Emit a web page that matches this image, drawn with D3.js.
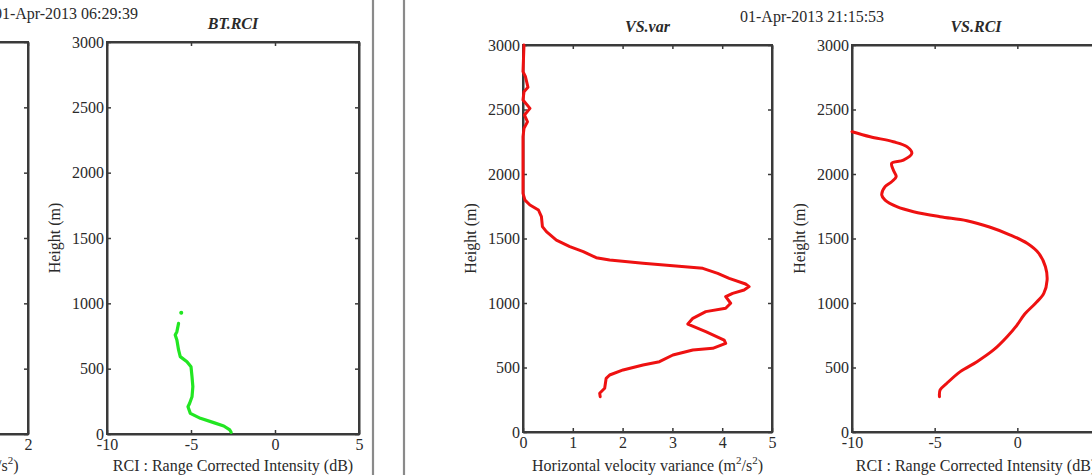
<!DOCTYPE html>
<html>
<head>
<meta charset="utf-8">
<script src="https://cdn.jsdelivr.net/npm/d3@7"></script>
<style>
  html, body { margin: 0; padding: 0; background: #fff; }
  svg { display: block; }
  text { font-family: "Liberation Serif", "Times New Roman", serif; fill: #2a2a2a; }
</style>
</head>
<body>
<svg id="chart" width="1092" height="475"></svg>
<script>
// ---------- data ----------
const heightTicks = [0, 500, 1000, 1500, 2000, 2500, 3000];
const rciTicks = [-10, -5, 0, 5];
const varTicks = [0, 1, 2, 3, 4, 5];
const leftVarTicks = [0, 0.5, 1, 1.5, 2];

const timestamps = ["01-Apr-2013 06:29:39", "01-Apr-2013 21:15:53"];
const titles = ["BT.RCI", "VS.var", "VS.RCI"];

// BT.RCI profile (dB vs height m); NaN marks the gap below the isolated top sample
const btRciValue  = [-5.58, NaN, -5.74, -5.84, -5.94, -5.84, -5.74, -5.64, -5.24, -5.0, -4.94, -4.89, -4.94, -5.08, -5.18, -5.04, -4.44, -3.65, -3.05, -2.69, -2.61];
const btRciHeight = [928, 890, 847, 783, 758, 719, 643, 592, 553, 515, 439, 362, 285, 235, 209, 158, 120, 87, 61, 31, 13];

// VS.var profile (m^2/s^2 vs height m)
const vsVarValue  = [0.02, 0.0, 0.05, 0.10, 0.02, 0.0, 0.14, 0.03, 0.09, 0.02, 0.0, 0.0, 0.0, 0.04, 0.14, 0.31, 0.37, 0.39, 0.47, 0.67, 0.94, 1.21, 1.47, 1.74, 2.41, 3.07, 3.61, 3.91, 4.14, 4.47, 4.54, 4.44, 4.21, 4.07, 4.17, 4.07, 3.67, 3.41, 3.31, 3.67, 4.04, 4.07, 3.81, 3.41, 3.01, 2.74, 2.41, 2.01, 1.74, 1.67, 1.64, 1.54, 1.55];
const vsVarHeight = [3000, 2793, 2754, 2672, 2638, 2574, 2509, 2457, 2405, 2354, 2289, 2108, 1850, 1798, 1760, 1721, 1669, 1592, 1553, 1488, 1437, 1398, 1351, 1333, 1308, 1287, 1269, 1230, 1191, 1147, 1127, 1101, 1075, 1049, 998, 959, 933, 881, 837, 778, 713, 687, 649, 636, 597, 545, 519, 481, 442, 416, 339, 300, 274];

// VS.RCI profile (dB vs height m)
const vsRciValue  = [-10.0, -8.9, -7.5, -6.68, -6.38, -6.89, -7.6, -7.5, -7.33, -7.6, -8.0, -8.2, -8.0, -7.29, -6.28, -4.67, -3.05, -1.64, -0.42, 0.59, 1.3, 1.7, 1.8, 1.6, 1.1, 0.45, -0.02, -0.62, -1.44, -2.44, -3.45, -4.26, -4.67, -4.71];
const vsRciHeight = [2328, 2289, 2250, 2212, 2160, 2108, 2083, 2031, 1979, 1940, 1902, 1837, 1798, 1747, 1708, 1669, 1638, 1587, 1527, 1463, 1385, 1281, 1178, 1075, 998, 915, 829, 739, 636, 545, 468, 378, 326, 274];

// ---------- drawing ----------
const svg = d3.select("#chart");
const axisColor = "#3a3a3a";
const plainFmt = d => String(d);   // "3000", "-10" (hyphen like the original)

function panel(cfg) {
  const x = d3.scaleLinear().domain(cfg.xDomain).range([cfg.left, cfg.right]);
  const y = d3.scaleLinear().domain([0, 3000]).range([cfg.bottom, cfg.top]);
  const g = svg.append("g");

  const bottomAxis = g.append("g").attr("transform", `translate(0,${cfg.bottom})`)
    .call(d3.axisBottom(x).tickValues(cfg.xTicks).tickSizeInner(-4).tickSizeOuter(0).tickPadding(5)
      .tickFormat(cfg.xFmt || plainFmt));
  g.append("g").attr("transform", `translate(0,${cfg.top})`)
    .call(d3.axisTop(x).tickValues(cfg.xTicks).tickSizeInner(-4).tickSizeOuter(0).tickFormat(""));
  const leftAxis = g.append("g").attr("transform", `translate(${cfg.left},0)`)
    .call(d3.axisLeft(y).tickValues(heightTicks).tickSizeInner(-4).tickSizeOuter(0).tickPadding(3)
      .tickFormat(plainFmt));
  g.append("g").attr("transform", `translate(${cfg.right},0)`)
    .call(d3.axisRight(y).tickValues(heightTicks).tickSizeInner(-4).tickSizeOuter(0).tickFormat(""));

  g.selectAll(".domain").attr("stroke", axisColor).attr("stroke-width", 2);
  g.selectAll(".tick line").attr("stroke", axisColor).attr("stroke-width", 1.5);
  g.selectAll(".tick text").style("font-size", "16px").attr("fill", "#2a2a2a")
    .style("font-family", "'Liberation Serif', serif");
  bottomAxis.selectAll(".tick text").attr("dy", "0.7em");
  if (cfg.hideYLabels) leftAxis.selectAll(".tick text").remove();
  bottomAxis.selectAll(".tick text").filter(function () { return this.textContent === ""; }).remove();

  g.append("rect").attr("x", cfg.left).attr("y", cfg.top)
    .attr("width", cfg.right - cfg.left).attr("height", cfg.bottom - cfg.top)
    .attr("fill", "none").attr("stroke", axisColor).attr("stroke-width", 2);

  if (cfg.values) {
    const pts = cfg.values.map((v, i) => [v, cfg.heights[i]]);
    const line = d3.line()
      .defined(d => !isNaN(d[0]))
      .x(d => x(d[0])).y(d => y(d[1]))
      .curve(cfg.curve || d3.curveLinear);
    g.append("path").datum(pts).attr("d", line)
      .attr("fill", "none").attr("stroke", cfg.color).attr("stroke-width", cfg.lw || 3)
      .attr("stroke-linejoin", "round").attr("stroke-linecap", "round");
    pts.forEach((p, i) => {
      if (isNaN(p[0])) return;
      const prev = i > 0 ? pts[i - 1][0] : NaN, next = i < pts.length - 1 ? pts[i + 1][0] : NaN;
      if (isNaN(prev) && isNaN(next)) {
        g.append("circle").attr("cx", x(p[0])).attr("cy", y(p[1])).attr("r", 2)
          .attr("fill", cfg.color);
      }
    });
  }

  if (cfg.title) {
    g.append("text").attr("x", (cfg.left + cfg.right) / 2).attr("y", cfg.top - 13)
      .attr("text-anchor", "middle").style("font-size", "16px")
      .style("font-weight", "bold").style("font-style", "italic").text(cfg.title);
  }
  const xl = g.append("text").attr("x", (cfg.left + cfg.right) / 2).attr("y", 471)
    .attr("text-anchor", "middle").style("font-size", "16px");
  cfg.xLabel(xl);
  if (cfg.yLabel) {
    g.append("text").attr("transform", `translate(${cfg.left - 47},${(cfg.top + cfg.bottom) / 2}) rotate(-90)`)
      .attr("text-anchor", "middle").style("font-size", "16px").text("Height (m)");
  }
}

function varLabel(t) {
  t.append("tspan").text("Horizontal velocity variance (m");
  t.append("tspan").attr("dy", -7).style("font-size", "11px").text("2");
  t.append("tspan").attr("dy", 7).text("/s");
  t.append("tspan").attr("dy", -7).style("font-size", "11px").text("2");
  t.append("tspan").attr("dy", 7).text(")");
}
function rciLabel(t) { t.text("RCI : Range Corrected Intensity (dB)"); }

// left partial panel (cut off by the frame of the original image)
panel({ left: -222, right: 28, top: 42, bottom: 434, xDomain: [0, 2], xTicks: leftVarTicks,
        hideYLabels: true, xLabel: varLabel,
        xFmt: d => (d === 2 ? "2" : "") });
// BT.RCI
panel({ left: 107, right: 359, top: 42, bottom: 434, xDomain: [-10, 5], xTicks: rciTicks,
        title: titles[0], yLabel: true, xLabel: rciLabel,
        values: btRciValue, heights: btRciHeight, color: "#22e622", lw: 3.2 });
// VS.var
panel({ left: 523, right: 772, top: 45, bottom: 432, xDomain: [0, 5], xTicks: varTicks,
        title: titles[1], yLabel: true, xLabel: varLabel,
        values: vsVarValue, heights: vsVarHeight, color: "#ee1111", lw: 3 });
// VS.RCI
panel({ left: 852, right: 1100, top: 45, bottom: 432, xDomain: [-10, 5], xTicks: rciTicks,
        title: titles[2], yLabel: true, xLabel: rciLabel,
        values: vsRciValue, heights: vsRciHeight, color: "#ee1111", lw: 3,
        curve: d3.curveCatmullRom });

// timestamps
svg.append("text").attr("x", 138).attr("y", 19).attr("text-anchor", "end")
  .style("font-size", "16px").text(timestamps[0]);
svg.append("text").attr("x", 740).attr("y", 22).attr("text-anchor", "start")
  .style("font-size", "16px").text(timestamps[1]);

// separator lines between the two figure images
[373, 404].forEach(xp => {
  svg.append("line").attr("x1", xp).attr("x2", xp).attr("y1", 0).attr("y2", 475)
    .attr("stroke", "#8a8a8a").attr("stroke-width", 2.2);
});
</script>
</body>
</html>
